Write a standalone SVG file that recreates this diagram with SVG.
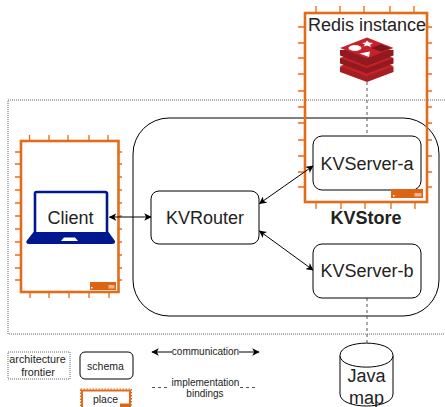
<svg xmlns="http://www.w3.org/2000/svg" width="445" height="407" viewBox="0 0 445 407">
<defs>
<marker id="ah" viewBox="0 0 10 10" refX="9" refY="5" markerWidth="7.5" markerHeight="7.5" markerUnits="userSpaceOnUse" orient="auto-start-reverse"><path d="M0 0L10 5L0 10L2.5 5Z" fill="#000"/></marker>
</defs>
<style>
text{font-family:"Liberation Sans",Arial,sans-serif;fill:#222;text-anchor:middle}
.n{font-size:18px}
.s{font-size:10px}
.m{font-size:10.5px}
.box{fill:#fff;stroke:#000;stroke-width:1}
.place{fill:none;stroke:#e36c1a;stroke-width:2.6}
.tick{stroke:#e36c1a;stroke-width:1.3;fill:none}
.frontier{fill:none;stroke:#555;stroke-width:.9;stroke-dasharray:1 1}
.link{fill:none;stroke:#000;stroke-width:1;marker-start:url(#ah);marker-end:url(#ah)}
.impl{fill:none;stroke:#555;stroke-width:1;stroke-dasharray:3 3}
.badge{fill:#db6515}
.badgel{fill:#f2b48a}
</style>
<rect width="445" height="407" fill="#fff"/>
<rect id="frontier" class="frontier" x="8" y="100" width="445" height="234"/>
<g id="kvstore">
<rect class="box" x="133" y="118" width="306" height="198" rx="36"/>
</g>
<g id="redis-place">
<path class="tick" d="M316 6v7M340 6v7M364 6v7M390 6v7M414 6v7M316 202v7M341 202v7M365 202v7M391 202v7M415 202v7M298 27h7M298 43h7M298 58h7M298 74h7M298 91h7M298 107h7M298 123h7M298 140h7M298 156h7M298 172h7M298 187h7M427 27h5M427 43h5M427 58h5M427 74h5M427 91h5M427 107h5M427 123h5M427 140h5M427 156h5M427 172h5M427 187h5"/>
<rect class="place" x="305" y="13" width="122" height="189"/>
<text x="367" y="31" class="n">Redis instance</text>
</g>
<g id="client-place">
<path class="tick" d="M29.500 135v6M49 135v6M68 135v6M89 135v6M108 135v6M30 292v6M49 292v6M69 292v6M89 292v6M109 292v6M15 152h6M15 164h6M15 177h6M15 190h6M15 203h6M15 216h6M15 229h6M15 242h6M15 255h6M15 268h6M15 280h6M118 152h4M118 164h4M118 177h4M118 190h4M118 203h4M118 216h4M118 229h4M118 242h4M118 255h4M118 268h4M118 280h4"/>
<rect class="place" x="21" y="141" width="97.500" height="151"/>
<rect class="badge" x="90" y="282" width="26" height="8"/>
<rect x="91" y="287" width="1.500" height="1.500" fill="#fff"/>
<rect class="badgel" x="108.500" y="285" width="6" height="3.500"/>
</g>
<g id="client">
<path d="M35 233V193.500Q35 192 36.500 192H105Q107 192 107 193.500V233" fill="#fff" stroke="#00188f" stroke-width="2.600"/>
<path d="M33.500 232H108.500L115 241Q115.500 244 112 244H29Q25.500 244 26.500 241Z" fill="#00188f"/>
<path d="M61 241L64 237.500H75L78 241Z" fill="#fff"/>
<text x="70.500" y="224" class="n">Client</text>
</g>
<g id="connectors">
<path class="impl" d="M367 82V136"/>
<path class="impl" d="M367 298V343"/>
<path class="link" d="M109.500 217H151"/>
<path class="link" d="M259.500 203.500L313 166"/>
<path class="link" d="M259.500 231L313 270"/>
</g>
<g id="redis-logo">
<path d="M340 66.500V72L367 82L393.500 72V66.500Z" fill="#a41e22"/>
<path d="M340 66L367 56L393.500 66L367 76.500Z" fill="#c6202a"/>
<path d="M340 58V63.500L367 73.500L393.500 63.500V58Z" fill="#8f1a1f"/>
<path d="M340 58L367 48L393.500 58L367 68Z" fill="#c6202a"/>
<path d="M340 50V55.500L367 66L393.500 55.500V50Z" fill="#8f1a1f"/>
<path d="M340 48L367 37.500L393.500 48L367 58.500Z" fill="#c6202a"/>
<ellipse cx="355" cy="48" rx="6.500" ry="3" fill="#fff"/>
<path d="M367 40.500L369 42.500L373 43L370 45L371 47L367 45.500L363.500 46.500L365 44.500L362 43L365.500 42.500Z" fill="#fff"/>
<path d="M370 51.500L369 57L359.500 53.500Z" fill="#fff"/>
<path d="M371 48L381 44.500L391 48L381 51.500Z" fill="#7a1519"/>
</g>
<g id="kvrouter">
<rect class="box" x="151" y="191" width="108" height="53" rx="8"/>
<text x="205" y="224" class="n">KVRouter</text>
</g>
<g id="kvserver-a">
<rect class="box" x="313" y="136" width="108" height="54" rx="9"/>
<text x="367" y="170" class="n">KVServer-a</text>
<rect class="badge" x="391" y="189" width="32" height="9"/>
<rect x="393" y="195" width="1.500" height="1.500" fill="#fff"/>
<rect class="badgel" x="414.500" y="193" width="7" height="3.500"/>
</g>
<text id="kvstore-label" x="366" y="224" font-size="18" font-weight="700">KVStore</text>
<g id="kvserver-b">
<rect class="box" x="313" y="244" width="108" height="54" rx="9"/>
<text x="367" y="277" class="n">KVServer-b</text>
</g>
<g id="java-map">
<path class="box" d="M340 355.500C340 339 393 339 393 355.500V394C393 410 340 410 340 394Z"/>
<path class="box" fill="none" d="M340 355.500C340 371 393 371 393 355.500"/>
<text x="366.500" y="382" class="n">Java</text>
<text x="366.500" y="404" class="n">map</text>
</g>
<g id="legend">
<rect class="frontier" x="8" y="352" width="62" height="27"/>
<text x="37.500" y="363" style="font-size:10.800px">architecture</text>
<text x="38" y="376" style="font-size:10.800px">frontier</text>
<rect class="box" x="80" y="352" width="53" height="27" rx="5"/>
<text x="105.500" y="370" class="m">schema</text>
<rect x="80.500" y="389" width="51" height="22" fill="none" stroke="#e36c1a" stroke-width="1" stroke-dasharray="1.500 1.500"/>
<rect x="82" y="390.500" width="48" height="20" fill="#fff" stroke="#e36c1a" stroke-width="2"/>
<path d="M120 407h10v-3.500h-10z" class="badge"/>
<text x="105.500" y="403" class="m">place</text>
<path class="link" d="M152 352H259"/>
<rect x="172" y="346" width="67" height="12" fill="#fff"/>
<text x="205.500" y="355" class="s">communication</text>
<path class="impl" d="M152 387.500H170M240 387.500H258"/>
<text x="205.500" y="386" class="s">implementation</text>
<text x="205" y="397" class="s">bindings</text>
</g>
</svg>
